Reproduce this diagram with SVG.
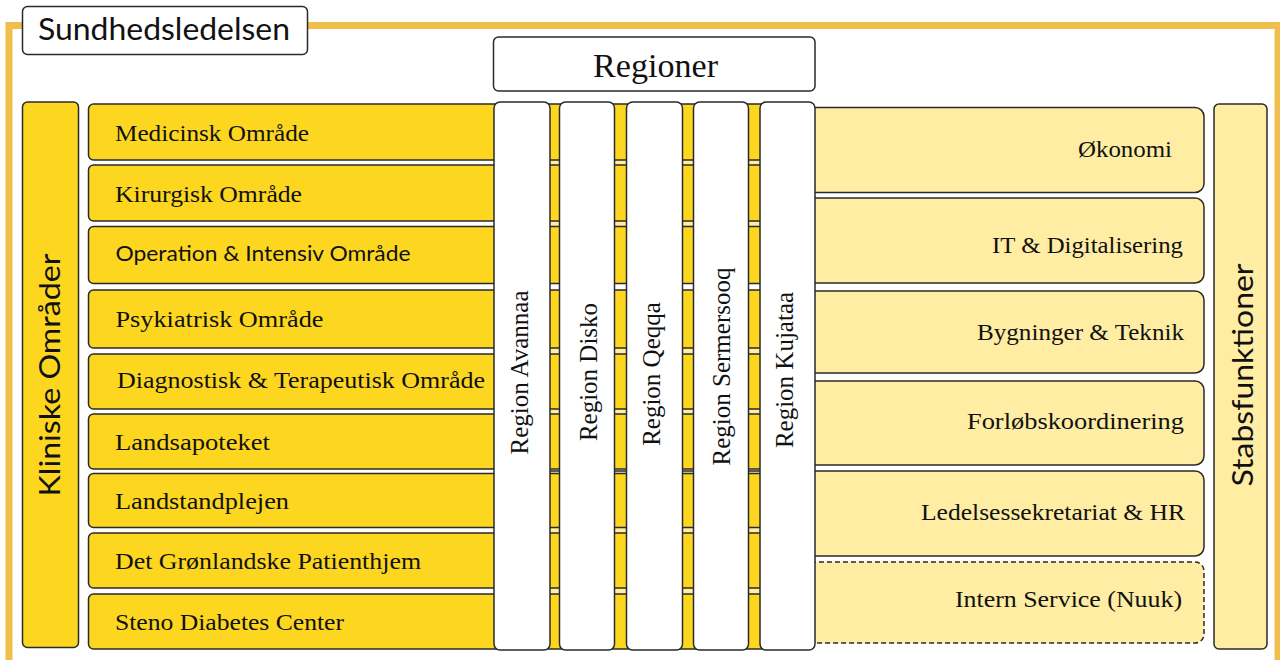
<svg xmlns="http://www.w3.org/2000/svg" width="1280" height="660" viewBox="0 0 1280 660">
  <style>
    .frame { fill: none; stroke: #F0BF4B; stroke-width: 7; }
    .box { stroke: #2a2a2a; stroke-width: 1.5; }
    .white { fill: #ffffff; }
    .yel { fill: #FDD71F; }
    .lt { fill: #FEEDA3; }
    .dash { stroke-dasharray: 5 3; }
    .serif { font-family: "Liberation Serif", "DejaVu Serif", serif; fill: #111; }
    .sans { font-family: "Lato", "Open Sans", "Liberation Sans", sans-serif; fill: #111; }
    .li { font-size: 24px; }
    .ri { font-size: 24px; text-anchor: end; }
    .reg { font-size: 25px; text-anchor: middle; }
    .vt { text-anchor: middle; }
  </style>

  <rect class="frame" x="9" y="25.5" width="1269" height="650"/>

  <g id="sundhedsledelsen">
    <rect class="box white" x="22.5" y="6.5" width="285" height="48" rx="5"/>
    <text class="sans" x="38" y="40" font-size="30" textLength="252" lengthAdjust="spacingAndGlyphs">Sundhedsledelsen</text>
  </g>

  <g id="regioner">
    <rect class="box white" x="493.5" y="37" width="321.5" height="54" rx="5"/>
    <text class="serif" x="593" y="77.3" font-size="34" textLength="125" lengthAdjust="spacingAndGlyphs">Regioner</text>
  </g>

  <g id="kliniske-omraader">
    <rect class="box yel" x="22.5" y="102" width="56" height="545.5" rx="5"/>
    <text class="sans vt" transform="translate(60,375) rotate(-90)" font-size="28" textLength="243" lengthAdjust="spacingAndGlyphs">Kliniske Områder</text>
  </g>

  <g id="stabsfunktioner">
    <rect class="box lt" x="1214" y="104" width="53" height="545" rx="5"/>
    <text class="sans vt" transform="translate(1253,375) rotate(-90)" font-size="29" textLength="223" lengthAdjust="spacingAndGlyphs">Stabsfunktioner</text>
  </g>

  <!-- right staff boxes (extend behind region columns) -->
  <g id="oekonomi">
    <rect class="box lt" x="530" y="107.5" width="674" height="85" rx="9"/>
    <text class="serif ri" x="1172" y="157" textLength="94" lengthAdjust="spacingAndGlyphs">Økonomi</text>
  </g>
  <g id="it-digitalisering">
    <rect class="box lt" x="530" y="198" width="674" height="85" rx="9"/>
    <text class="serif ri" x="1183" y="253" textLength="191" lengthAdjust="spacingAndGlyphs">IT &amp; Digitalisering</text>
  </g>
  <g id="bygninger-teknik">
    <rect class="box lt" x="530" y="291" width="674" height="82" rx="9"/>
    <text class="serif ri" x="1184" y="340" textLength="207" lengthAdjust="spacingAndGlyphs">Bygninger &amp; Teknik</text>
  </g>
  <g id="forloebskoordinering">
    <rect class="box lt" x="530" y="381" width="674" height="84" rx="9"/>
    <text class="serif ri" x="1184" y="429" textLength="217" lengthAdjust="spacingAndGlyphs">Forløbskoordinering</text>
  </g>
  <g id="ledelsessekretariat-hr">
    <rect class="box lt" x="530" y="471" width="674" height="85" rx="9"/>
    <text class="serif ri" x="1185" y="520" textLength="264" lengthAdjust="spacingAndGlyphs">Ledelsessekretariat &amp; HR</text>
  </g>
  <g id="intern-service">
    <rect class="box lt dash" x="530" y="562" width="674" height="81" rx="9"/>
    <text class="serif ri" x="1182" y="607" textLength="227" lengthAdjust="spacingAndGlyphs">Intern Service (Nuuk)</text>
  </g>

  <!-- left clinical boxes (extend behind region columns) -->
  <g id="medicinsk">
    <rect class="box yel" x="88.5" y="104" width="724" height="56" rx="5"/>
    <text class="serif li" x="115" y="140.7" textLength="194" lengthAdjust="spacingAndGlyphs">Medicinsk Område</text>
  </g>
  <g id="kirurgisk">
    <rect class="box yel" x="88.5" y="165" width="724" height="56" rx="5"/>
    <text class="serif li" x="115" y="201.7" textLength="187" lengthAdjust="spacingAndGlyphs">Kirurgisk Område</text>
  </g>
  <g id="operation-intensiv">
    <rect class="box yel" x="88.5" y="226.5" width="724" height="57" rx="5"/>
    <text class="sans" x="115.5" y="260.7" font-size="22" textLength="295" lengthAdjust="spacingAndGlyphs">Operation &amp; Intensiv Område</text>
  </g>
  <g id="psykiatrisk">
    <rect class="box yel" x="88.5" y="290" width="724" height="58" rx="5"/>
    <text class="serif li" x="115.5" y="327.3" textLength="208" lengthAdjust="spacingAndGlyphs">Psykiatrisk Område</text>
  </g>
  <g id="diagnostisk-terapeutisk">
    <rect class="box yel" x="88.5" y="354" width="724" height="55" rx="5"/>
    <text class="serif li" x="117" y="388.3" textLength="368" lengthAdjust="spacingAndGlyphs">Diagnostisk &amp; Terapeutisk Område</text>
  </g>
  <g id="landsapoteket">
    <rect class="box yel" x="88.5" y="414" width="724" height="55" rx="5"/>
    <text class="serif li" x="115" y="450" textLength="155" lengthAdjust="spacingAndGlyphs">Landsapoteket</text>
  </g>
  <g id="landstandplejen">
    <rect class="box yel" x="88.5" y="473.5" width="724" height="54" rx="5"/>
    <text class="serif li" x="115" y="508.5" textLength="174" lengthAdjust="spacingAndGlyphs">Landstandplejen</text>
  </g>
  <g id="groenlandske-patienthjem">
    <rect class="box yel" x="88.5" y="533" width="724" height="55" rx="5"/>
    <text class="serif li" x="115" y="569" textLength="306" lengthAdjust="spacingAndGlyphs">Det Grønlandske Patienthjem</text>
  </g>
  <g id="steno-diabetes-center">
    <rect class="box yel" x="88.5" y="594" width="724" height="55" rx="5"/>
    <text class="serif li" x="115" y="630" textLength="229" lengthAdjust="spacingAndGlyphs">Steno Diabetes Center</text>
  </g>

  <!-- region columns -->
  <g id="region-avannaa">
    <rect class="box white" x="494" y="102" width="56" height="548" rx="6"/>
    <text class="serif reg" transform="translate(528.3,372.5) rotate(-90)">Region Avannaa</text>
  </g>
  <g id="region-disko">
    <rect class="box white" x="559.5" y="102" width="55" height="548" rx="6"/>
    <text class="serif reg" transform="translate(596.5,372) rotate(-90)">Region Disko</text>
  </g>
  <g id="region-qeqqa">
    <rect class="box white" x="626.5" y="102" width="56" height="548" rx="6"/>
    <text class="serif reg" transform="translate(660,374) rotate(-90)">Region Qeqqa</text>
  </g>
  <g id="region-sermersooq">
    <rect class="box white" x="693.5" y="102" width="55" height="548" rx="6"/>
    <text class="serif reg" transform="translate(730,366.5) rotate(-90)">Region Sermersooq</text>
  </g>
  <g id="region-kujataa">
    <rect class="box white" x="760" y="102" width="55" height="548" rx="6"/>
    <text class="serif reg" transform="translate(793.3,370) rotate(-90)">Region Kujataa</text>
  </g>

  <g id="connectors"></g>
</svg>
